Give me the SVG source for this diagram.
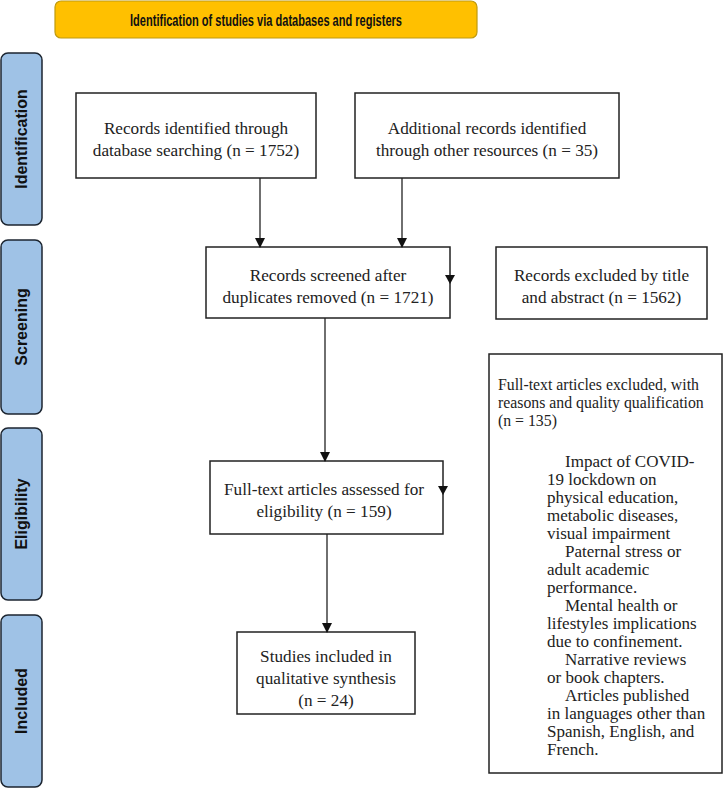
<svg xmlns="http://www.w3.org/2000/svg" width="727" height="791" viewBox="0 0 727 791">
<defs>
<style>
.phase{fill:#9fc2e6;stroke:#1c2530;stroke-width:1.5}
.ptxt{font-family:"Liberation Sans",Arial,sans-serif;font-weight:bold;font-size:16px;fill:#111;text-anchor:middle}
.box{fill:#fff;stroke:#222;stroke-width:1.5}
.t{font-family:"Liberation Serif","Times New Roman",serif;font-size:17.2px;fill:#222;text-anchor:middle}
.s{font-family:"Liberation Serif","Times New Roman",serif;font-size:15.8px;fill:#222}
.l{font-family:"Liberation Serif","Times New Roman",serif;font-size:17px;fill:#222}
.ln{stroke:#222;stroke-width:1.3;fill:none}
</style>
<marker id="ah" markerWidth="10" markerHeight="10" refX="9" refY="5" orient="auto" markerUnits="userSpaceOnUse">
<path d="M0,0 L10,5 L0,10 Z" fill="#111"/>
</marker>
</defs>
<rect width="727" height="791" fill="#fff"/>
<g id="header">
<rect x="55" y="1" width="422" height="37" rx="6" fill="#ffc000" stroke="#bf9a10" stroke-width="1.2"/>
<text x="266" y="25.5" class="ptxt" font-size="16" textLength="272" lengthAdjust="spacingAndGlyphs">Identification of studies via databases and registers</text>
</g>
<g id="phase-identification">
<rect class="phase" x="1" y="53" width="41" height="172" rx="7"/>
<text class="ptxt" transform="translate(27,139) rotate(-90)">Identification</text>
</g>
<g id="phase-screening">
<rect class="phase" x="1" y="240" width="41" height="174" rx="7"/>
<text class="ptxt" transform="translate(27,327) rotate(-90)">Screening</text>
</g>
<g id="phase-eligibility">
<rect class="phase" x="1" y="428" width="41" height="172" rx="7"/>
<text class="ptxt" transform="translate(27,514) rotate(-90)">Eligibility</text>
</g>
<g id="phase-included">
<rect class="phase" x="1" y="615" width="41" height="172" rx="7"/>
<text class="ptxt" transform="translate(27,701) rotate(-90)">Included</text>
</g>
<g id="records-db">
<rect class="box" x="76" y="93" width="240" height="85"/>
<text class="t" x="196" y="134">Records identified through</text>
<text class="t" x="196" y="156">database searching (n = 1752)</text>
</g>
<g id="records-other">
<rect class="box" x="355" y="93" width="264" height="85"/>
<text class="t" x="487" y="134">Additional records identified</text>
<text class="t" x="487" y="156">through other resources (n = 35)</text>
</g>
<g id="screened">
<rect class="box" x="206" y="247" width="244" height="71"/>
<text class="t" x="328" y="281">Records screened after</text>
<text class="t" x="328" y="303">duplicates removed (n = 1721)</text>
</g>
<g id="excluded-title">
<rect class="box" x="496" y="247" width="211" height="72"/>
<text class="t" x="601.5" y="281">Records excluded by title</text>
<text class="t" x="601.5" y="303">and abstract (n = 1562)</text>
</g>
<g id="fulltext">
<rect class="box" x="210" y="461" width="233" height="73"/>
<text class="t" x="324" y="495">Full-text articles assessed for</text>
<text class="t" x="324" y="517">eligibility (n = 159)</text>
</g>
<g id="included">
<rect class="box" x="237" y="632" width="178" height="82"/>
<text class="t" x="326" y="662">Studies included in</text>
<text class="t" x="326" y="684">qualitative synthesis</text>
<text class="t" x="326" y="706">(n = 24)</text>
</g>
<g id="excluded-fulltext">
<rect class="box" x="489" y="354" width="233" height="419"/>
<text class="s" x="498" y="390">Full-text articles excluded, with</text>
<text class="s" x="498" y="408">reasons and quality qualification</text>
<text class="s" x="498" y="426">(n = 135)</text>
<text class="l" x="565" y="467">Impact of COVID-</text>
<text class="l" x="547" y="485">19 lockdown on</text>
<text class="l" x="547" y="503">physical education,</text>
<text class="l" x="547" y="521">metabolic diseases,</text>
<text class="l" x="547" y="539">visual impairment</text>
<text class="l" x="565" y="557">Paternal stress or</text>
<text class="l" x="547" y="575">adult academic</text>
<text class="l" x="547" y="593">performance.</text>
<text class="l" x="565" y="611">Mental health or</text>
<text class="l" x="547" y="629">lifestyles implications</text>
<text class="l" x="547" y="647">due to confinement.</text>
<text class="l" x="565" y="665">Narrative reviews</text>
<text class="l" x="547" y="683">or book chapters.</text>
<text class="l" x="565" y="701">Articles published</text>
<text class="l" x="547" y="719">in languages other than</text>
<text class="l" x="547" y="737">Spanish, English, and</text>
<text class="l" x="547" y="755">French.</text>
</g>
<g id="connectors">
<line class="ln" x1="260" y1="178" x2="260" y2="247" marker-end="url(#ah)"/>
<line class="ln" x1="402" y1="178" x2="402" y2="247" marker-end="url(#ah)"/>
<line class="ln" x1="325" y1="318" x2="325" y2="461" marker-end="url(#ah)"/>
<line class="ln" x1="327" y1="534" x2="327" y2="632" marker-end="url(#ah)"/>
<path d="M445,275 L455,275 L450,284 Z" fill="#111"/>
<path d="M438,486 L448,486 L443,495 Z" fill="#111"/>
</g>
</svg>
